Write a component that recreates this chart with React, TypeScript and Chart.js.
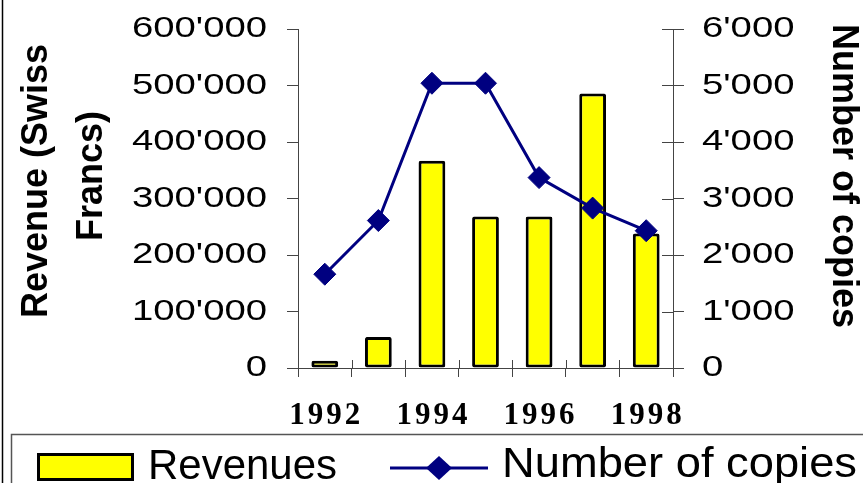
import React, { useEffect, useRef } from 'react';
import { Chart, registerables } from 'chart.js';

Chart.register(...registerables);

// ---- data ----
const years = ['1992', '1993', '1994', '1995', '1996', '1997', '1998'];
const labeledYears = ['1992', '1994', '1996', '1998'];
const revenues = [13000, 55000, 367000, 268000, 268000, 486000, 238000];
const copies = [1660, 2610, 5040, 5040, 3370, 2830, 2430];
const revenueMax = 600000;
const revenueStep = 100000;
const copiesMax = 6000;
const copiesStep = 1000;
const leftTitle = ['Revenue (Swiss', 'Francs)'];
const rightTitle = 'Number of copies';
const legendLabels = ['Revenues', 'Number of copies'];

const fmt = (v: number) => String(Math.round(v)).replace(/\B(?=(\d{3})+(?!\d))/g, "'");

const TICK_STRETCH = 1.32;

function drawStretched(ctx: CanvasRenderingContext2D, text: string, x: number, y: number, targetW: number) {
  const w = ctx.measureText(text).width;
  ctx.save();
  ctx.translate(x, y);
  ctx.scale(targetW / w, 1);
  ctx.fillText(text, 0, 0);
  ctx.restore();
}

const decor = {
  id: 'decor',
  afterDraw(chart: any) {
    const { ctx, chartArea: a, scales } = chart;
    const x = scales.x;
    const y1 = scales.y1;
    ctx.save();
    // inner tick parts
    ctx.strokeStyle = '#444';
    ctx.lineWidth = 1;
    ctx.beginPath();
    const c0 = x.getPixelForValue(0);
    const w = x.getPixelForValue(1) - c0;
    for (let i = 0; i <= years.length; i++) {
      const px = Math.round(c0 - w / 2 + i * w) + 0.5;
      ctx.moveTo(px, a.bottom - 8);
      ctx.lineTo(px, a.bottom);
    }
    y1.ticks.forEach((t: any) => {
      const py = Math.round(y1.getPixelForValue(t.value)) + 0.5;
      ctx.moveTo(a.right - 11, py);
      ctx.lineTo(a.right, py);
    });
    ctx.stroke();

    // outer frame (left edge)
    ctx.strokeStyle = '#000';
    ctx.lineWidth = 1.5;
    ctx.beginPath();
    ctx.moveTo(2.5, 0);
    ctx.lineTo(2.5, 483);
    ctx.stroke();

    // axis titles
    ctx.fillStyle = '#000';
    ctx.font = 'bold 36px "Liberation Sans"';
    ctx.textAlign = 'center';
    ctx.textBaseline = 'alphabetic';
    ctx.save();
    ctx.translate(47, 181);
    ctx.rotate(-Math.PI / 2);
    ctx.fillText(leftTitle[0], 0, 0);
    ctx.restore();
    ctx.save();
    ctx.translate(102, 176);
    ctx.rotate(-Math.PI / 2);
    ctx.fillText(leftTitle[1], 0, 0);
    ctx.restore();
    ctx.save();
    ctx.translate(833, 176);
    ctx.rotate(Math.PI / 2);
    ctx.fillText(rightTitle, 0, 0);
    ctx.restore();

    // legend
    ctx.strokeStyle = '#555';
    ctx.lineWidth = 1.5;
    ctx.strokeRect(11.5, 434.5, 900, 100);

    ctx.fillStyle = '#FFFF00';
    ctx.strokeStyle = '#000';
    ctx.lineWidth = 3;
    ctx.beginPath();
    ctx.rect(38.5, 454.5, 94, 25);
    ctx.fill();
    ctx.stroke();

    ctx.strokeStyle = '#000080';
    ctx.lineWidth = 3;
    ctx.beginPath();
    ctx.moveTo(390, 468);
    ctx.lineTo(488, 468);
    ctx.stroke();
    ctx.fillStyle = '#000080';
    ctx.beginPath();
    ctx.moveTo(439, 456);
    ctx.lineTo(452, 468);
    ctx.lineTo(439, 480);
    ctx.lineTo(426, 468);
    ctx.closePath();
    ctx.fill();

    ctx.fillStyle = '#000';
    ctx.font = '42px "Liberation Sans"';
    ctx.textAlign = 'left';
    ctx.textBaseline = 'alphabetic';
    drawStretched(ctx, legendLabels[0], 148, 479, 189);
    drawStretched(ctx, legendLabels[1], 502, 477, 355);
    ctx.restore();
  },
};

export default function App() {
  const ref = useRef<HTMLCanvasElement | null>(null);

  useEffect(() => {
    const canvas = ref.current;
    if (!canvas) return;
    const ctx = canvas.getContext('2d') as CanvasRenderingContext2D;
    const origFill = ctx.fillText.bind(ctx);
    (ctx as any).fillText = (text: string, x: number, y: number, maxWidth?: number) => {
      const f = ctx.font;
      if (/\b29px/.test(f)) {
        ctx.save();
        ctx.translate(x, y);
        ctx.scale(TICK_STRETCH, 1);
        origFill(text, 0, 0);
        ctx.restore();
      } else if (/\b31px/.test(f) && 'letterSpacing' in ctx) {
        const prev = (ctx as any).letterSpacing;
        (ctx as any).letterSpacing = '3px';
        origFill(text, x + 1.5, y);
        (ctx as any).letterSpacing = prev;
      } else if (maxWidth === undefined) {
        origFill(text, x, y);
      } else {
        origFill(text, x, y, maxWidth);
      }
    };

    const fitY = (width: number) => (s: any) => {
      s.width = width;
      s.paddingTop = 0;
      s.paddingBottom = 0;
    };

    const chart = new Chart(canvas, {
      data: {
        labels: years,
        datasets: [
          {
            type: 'line',
            label: legendLabels[1],
            data: copies,
            yAxisID: 'y1',
            order: 0,
            borderColor: '#000080',
            borderWidth: 3,
            backgroundColor: '#000080',
            pointStyle: 'rectRot',
            pointRadius: 11,
            pointBackgroundColor: '#000080',
            pointBorderColor: '#000080',
            pointBorderWidth: 1,
            tension: 0,
          },
          {
            type: 'bar',
            label: legendLabels[0],
            data: revenues,
            yAxisID: 'y',
            order: 1,
            backgroundColor: '#FFFF00',
            borderColor: '#000',
            borderWidth: 3,
            borderSkipped: false,
            borderRadius: 2,
            barPercentage: 0.5,
            categoryPercentage: 1,
          },
        ],
      } as any,
      options: {
        responsive: false,
        animation: false,
        layout: { padding: { top: 29, left: 0, right: 0, bottom: 0 } },
        plugins: { legend: { display: false }, tooltip: { enabled: false }, title: { display: false } },
        scales: {
          x: {
            type: 'category',
            offset: true,
            grid: { offset: true, drawOnChartArea: false, drawTicks: true, tickLength: 9, color: '#444', lineWidth: 1 },
            border: { display: true, color: '#444', width: 1 },
            ticks: {
              autoSkip: false,
              maxRotation: 0,
              minRotation: 0,
              padding: 20,
              color: '#000',
              font: { family: 'Liberation Serif', weight: 'bold', size: 31 },
              callback: (_v: any, i: number) => (labeledYears.includes(years[i]) ? years[i] : ''),
            },
            afterFit: (s: any) => {
              s.height = 115;
              s.paddingLeft = 0;
              s.paddingRight = 0;
            },
          },
          y: {
            position: 'left',
            min: 0,
            max: revenueMax,
            grid: { drawOnChartArea: false, drawTicks: true, tickLength: 11, color: '#444', lineWidth: 1 },
            border: { display: true, color: '#444', width: 1 },
            ticks: {
              stepSize: revenueStep,
              padding: 20,
              color: '#000',
              font: { family: 'Liberation Sans', size: 29 },
              callback: (v: any) => fmt(Number(v)),
            },
            afterFit: fitY(298),
          },
          y1: {
            position: 'right',
            min: 0,
            max: copiesMax,
            grid: { drawOnChartArea: false, drawTicks: true, tickLength: 11, color: '#444', lineWidth: 1 },
            border: { display: true, color: '#444', width: 1 },
            ticks: {
              stepSize: copiesStep,
              padding: 18,
              color: '#000',
              font: { family: 'Liberation Sans', size: 29 },
              callback: (v: any) => fmt(Number(v)),
            },
            afterFit: fitY(190),
          },
        },
      } as any,
      plugins: [decor],
    });

    return () => {
      chart.destroy();
      (ctx as any).fillText = origFill;
    };
  }, []);

  return (
    <div style={{ position: 'absolute', left: 0, top: 0, width: 863, height: 483, background: '#fff' }}>
      <canvas ref={ref} width={863} height={483} style={{ display: 'block', width: 863, height: 483 }} />
    </div>
  );
}
